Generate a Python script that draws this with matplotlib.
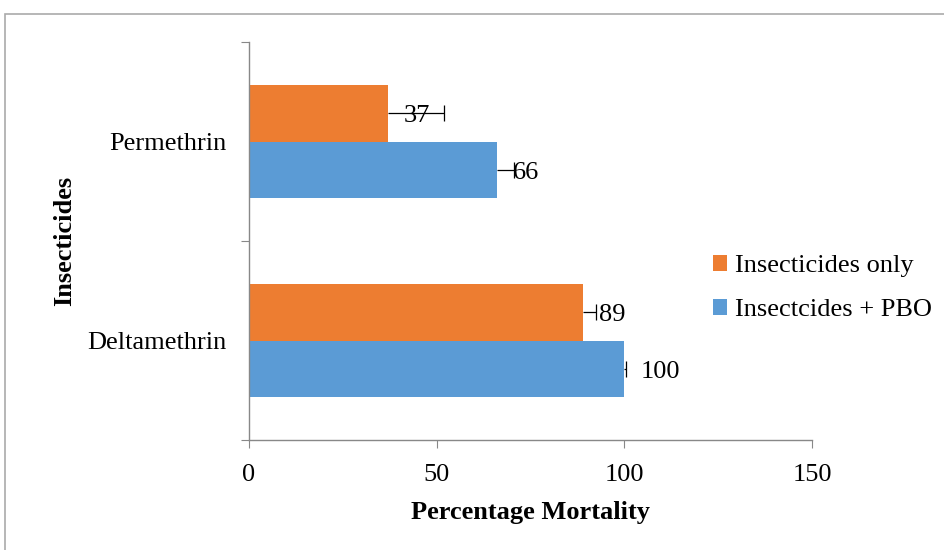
import matplotlib
matplotlib.use("Agg")
import matplotlib.pyplot as plt
from matplotlib.patches import Rectangle
import numpy as np

categories = ["Deltamethrin", "Permethrin"]
only_vals = [89, 37]
pbo_vals = [100, 66]
only_err = [3.5, 15]
pbo_err = [0.5, 4.5]
series_names = ["Insecticides only", "Insectcides + PBO"]
xticks = [0, 50, 100, 150]

plt.rcParams['font.family'] = ['Liberation Serif', 'DejaVu Serif']
FS = 19

fig = plt.figure(figsize=(9.45, 5.5), dpi=100)
ax = fig.add_axes([249/945, 1-440/550, (812-249)/945, (440-42)/550])

orange = '#ED7D31'
blue = '#5B9BD5'
h = 0.285
y = np.arange(len(categories))

b1 = ax.barh(y + h/2, only_vals, height=h, color=orange, label=series_names[0])
b2 = ax.barh(y - h/2, pbo_vals, height=h, color=blue, label=series_names[1])

def err_and_label(ys, vals, errs):
    for yy, v, e in zip(ys, vals, errs):
        ax.hlines(yy, v, v + e, color='black', linewidth=0.9, zorder=3)
        ax.plot([v + e], [yy], marker='|', color='black', markersize=11,
                markeredgewidth=0.9, zorder=3)
        ax.annotate(str(v), (v, yy), xytext=(11.5, -2.2), textcoords='offset points',
                    va='center', ha='left', fontsize=FS, zorder=4)

err_and_label(y + h/2, only_vals, only_err)
err_and_label(y - h/2, pbo_vals, pbo_err)

ax.set_xlim(0, 150)
ax.set_ylim(-0.5, 1.5)
ax.set_xticks(xticks)
ax.set_xticklabels([str(t) for t in xticks], fontsize=FS)
ax.set_yticks([-0.5, 0.5, 1.5])
ax.set_yticklabels([])
ax.set_yticks(y, minor=True)
ax.set_yticklabels(categories, minor=True, fontsize=FS)
ax.tick_params(axis='y', which='minor', length=0, pad=16)
ax.tick_params(axis='y', which='major', length=6, color='#888888', direction='out')
ax.tick_params(axis='x', length=6, color='#888888', direction='out', pad=11)

for s in ['top', 'right']:
    ax.spines[s].set_visible(False)
for s in ['left', 'bottom']:
    ax.spines[s].set_color('#888888')
    ax.spines[s].set_linewidth(1.0)

ax.set_xlabel("Percentage Mortality", fontsize=FS, fontweight='bold', labelpad=11)
ax.set_ylabel("Insecticides", fontsize=FS, fontweight='bold', labelpad=8)

ax.legend(handles=[b1, b2], loc='center left', bbox_to_anchor=(689/945, 1-288/550),
          bbox_transform=fig.transFigure, frameon=False, fontsize=FS,
          handlelength=0.55, handleheight=0.55, handletextpad=0.3, labelspacing=0.82)

fig.patches.append(Rectangle((5/945, -0.1), 945/945, 1-14/550+0.1, transform=fig.transFigure,
                             fill=False, edgecolor='#AAAAAA', linewidth=1.2))

fig.savefig("out.png", dpi=100)
